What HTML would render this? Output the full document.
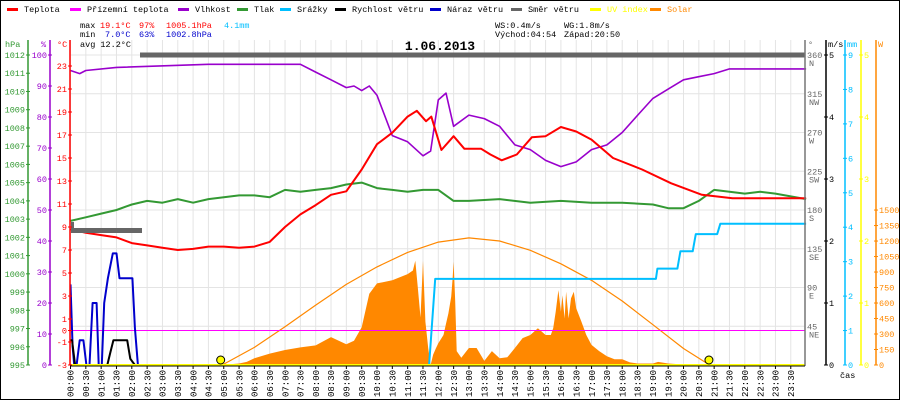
<!DOCTYPE html>
<html><head><meta charset="utf-8"><title>Weather 1.06.2013</title>
<style>
html,body{margin:0;padding:0;background:#fff;}
svg{display:block;font-family:"Liberation Mono",monospace;}
</style></head>
<body>
<svg id="chart" width="900" height="400" viewBox="0 0 900 400" xmlns="http://www.w3.org/2000/svg">
<rect x="0.5" y="0.5" width="899" height="399" fill="#fff" stroke="#000"/>
<g id="grid"></g>
<g id="series"></g>
<g id="axes"></g>
<g id="legend" font-size="8.5"></g>
<g font-size="8.5">
 <text x="80" y="28">max</text>
 <text x="100" y="28" fill="#f00">19.1°C</text>
 <text x="139" y="28" fill="#f00">97%</text>
 <text x="166" y="28" fill="#f00">1005.1hPa</text>
 <text x="224" y="28" fill="#00bfff">4.1mm</text>
 <text x="80" y="37">min</text>
 <text x="105" y="37" fill="#00c">7.0°C</text>
 <text x="139" y="37" fill="#00c">63%</text>
 <text x="166" y="37" fill="#00c">1002.8hPa</text>
 <text x="80" y="47">avg 12.2°C</text>
 <text x="495" y="28">WS:0.4m/s</text>
 <text x="564" y="28">WG:1.8m/s</text>
 <text x="495" y="37">Východ:04:54</text>
 <text x="564" y="37">Západ:20:50</text>
</g>
<text x="440" y="50" text-anchor="middle" font-size="13" font-weight="bold">1.06.2013</text>
</svg>
<script>
// ---- data ----
const timeLabels = ["00:00","00:30","01:00","01:30","02:00","02:30","03:00","03:30","04:00","04:30","05:00","05:30","06:00","06:30","07:00","07:30","08:00","08:30","09:00","09:30","10:00","10:30","11:00","11:30","12:00","12:30","13:00","13:30","14:00","14:30","15:00","15:30","16:00","16:30","17:00","17:30","18:00","18:30","19:00","19:30","20:00","20:30","21:00","21:30","22:00","22:30","23:00","23:30"];
const tempHours = [0,0.5,1,1.5,2,2.5,3,3.5,4,4.5,5,5.5,6,6.5,7,7.5,8,8.5,9,9.5,10,10.5,11,11.3,11.6,11.77,12.1,12.5,12.85,13.4,13.7,14.07,14.56,15.05,15.5,16.0,16.5,17.0,17.7,18.65,19.6,20.6,21.6,22.6,24];
const tempValues = [8.8,8.5,8.3,8.1,7.6,7.4,7.2,7.0,7.1,7.3,7.3,7.2,7.3,7.7,9.0,10.1,10.9,11.8,12.1,14.0,16.2,17.2,18.6,19.1,18.2,18.6,15.7,16.9,15.8,15.8,15.3,14.8,15.3,16.8,16.9,17.7,17.3,16.6,15.0,14.0,12.8,11.8,11.5,11.5,11.5];
const humHours = [0,0.3,0.5,1.5,4.5,5,5.5,7.5,8,8.5,9,9.25,9.5,9.75,10,10.5,11,11.5,11.75,12,12.25,12.5,13,13.5,14,14.5,15,15.5,16,16.5,17,17.5,18,18.5,19,19.5,20,20.5,21,21.5,22,23,24];
const humValues = [95,94,95,96,97,97,97,97,94.5,92,89.5,90,88.5,90,87,74,72,67.5,69,85.5,87.7,77,80.6,79.5,77,71,69.5,66,64,65.5,69.5,71,75,80.5,86,89,92,93,94,95.5,95.5,95.5,95.5];
const pressHours = [0,0.5,1,1.5,2,2.5,3,3.5,4,4.5,5,5.5,6,6.5,7,7.5,8,8.5,9,9.5,10,10.5,11,11.5,12,12.5,13,14,15,16,17,18,19,19.5,20,20.5,21,21.5,22,22.5,23,24];
const pressValues = [1002.9,1003.1,1003.3,1003.5,1003.8,1004.0,1003.9,1004.1,1003.9,1004.1,1004.2,1004.3,1004.3,1004.2,1004.6,1004.5,1004.6,1004.7,1004.9,1005.0,1004.7,1004.6,1004.5,1004.6,1004.6,1004.0,1004.0,1004.1,1003.9,1004.0,1003.9,1003.9,1003.8,1003.6,1003.6,1004.0,1004.6,1004.5,1004.4,1004.5,1004.4,1004.1];
const gustHours = [0,0.07,0.12,0.2,0.3,0.42,0.52,0.62,0.72,0.85,0.92,1.02,1.1,1.22,1.38,1.5,1.6,1.72,2.02,2.1,2.2];
const gustValues = [1.3,0.3,0,0,0.4,0.4,0,0,1.0,1.0,0,0,1.0,1.4,1.8,1.8,1.4,1.4,1.4,0.6,0];
const windHours = [0,0.05,0.15,1.2,1.3,1.4,1.85,1.95,2.1];
const windValues = [0.4,0.4,0,0,0.2,0.4,0.4,0.1,0];
const rainHours = [0,11.7,11.9,19.1,19.15,19.8,19.9,20.3,20.4,21.1,21.2,24];
const rainValues = [0,0,2.5,2.5,2.8,2.8,3.3,3.3,3.8,3.8,4.1,4.1];
const clearSkyHours = [4.95,6,7,8,9,10,11,12,13,14,15,16,17,18,19,20,20.85];
const clearSkyValues = [0,170,370,580,780,950,1090,1190,1230,1200,1110,980,820,620,390,160,0];
const solarHours = [4.9,5.5,5.75,6,6.5,7,7.5,8,8.5,9,9.25,9.5,9.75,10,10.5,11,11.17,11.25,11.33,11.42,11.5,11.58,11.67,11.75,11.83,11.92,12,12.17,12.25,12.33,12.42,12.47,12.5,12.55,12.6,12.75,13,13.25,13.5,13.75,14,14.25,14.5,14.75,15,15.25,15.5,15.67,15.75,15.83,15.92,16,16.05,16.12,16.17,16.25,16.33,16.42,16.5,16.67,16.83,17,17.25,17.5,17.75,18,18.25,18.5,19,19.17,19.5,20,20.5,20.85];
const solarValues = [0,15,30,65,110,145,170,190,270,200,235,365,690,790,820,880,915,1010,750,460,1010,420,165,0,100,160,210,290,400,500,660,850,1000,620,135,70,165,165,40,135,65,75,165,260,290,355,290,290,355,515,725,515,675,450,710,450,645,710,550,420,290,195,135,85,55,55,25,15,15,30,15,5,5,0];
const sunEvents = [4.9,20.83];
const hpaTicks = [995,996,997,998,999,1000,1001,1002,1003,1004,1005,1006,1007,1008,1009,1010,1011,1012];
const humTicks = [0,10,20,30,40,50,60,70,80,90,100];
const tempTicks = [-3,-1,0,1,3,5,7,9,11,13,15,17,19,21,23];
const dirTicks = [45,90,135,180,225,270,315,360];
const dirNames = ["NE","E","SE","S","SW","W","NW","N"];
const windTicks = [0,1,2,3,4,5];
const mmTicks = [0,1,2,3,4,5,6,7,8,9];
const uvTicks = [0,1,2,3,4,5];
const solarTicks = [0,150,300,450,600,750,900,1050,1200,1350,1500];
const legendNames = ["Teplota","Přízemní teplota","Vlhkost","Tlak","Srážky","Rychlost větru","Náraz větru","Směr větru","UV index","Solar"];
const legendColors = ["#f00","#f0f","#90c","#393","#00bfff","#000","#00c","#666","#ff0","#f80"];

// ---- scales ----
const X0=70.5, PX_H=30.65, YB=365, YT=55;
const xS = h => X0 + h*PX_H;
const yTemp = t => 330.5 - t*11.5;
const yHum = p => YB - p*(YB-YT)/100;
const yPress = p => YB - (p-995)*(YB-YT)/17;
const yWind = v => YB - v*(YB-YT)/5;
const yRain = m => YB - m*(YB-YT)/9;
const yUV = v => YB - v*(YB-YT)/5;
const ySolar = w => YB - w*0.1033;
const yDir = d => YB - d*(YB-YT)/360;
const NS="http://www.w3.org/2000/svg";
const FS=8.5;
function mk(tag,parent,attrs){const e=document.createElementNS(NS,tag);for(const k in attrs)e.setAttribute(k,attrs[k]);parent.appendChild(e);return e;}
const grid=document.getElementById('grid'), ser=document.getElementById('series'), axes=document.getElementById('axes'), leg=document.getElementById('legend');

// grid
for(let i=0;i<48;i++){const x=xS(i*0.5);
 const l=mk('line',grid,{x1:x,x2:x,y1:40,y2:YB,stroke:'#e4e4e4'});
 
 
 const t=mk('text',axes,{x:0,y:0,'font-size':9,transform:`translate(${x+3.2},397) rotate(-90)`});
 t.textContent=timeLabels[i];
 
 
 const tk=mk('line',axes,{x1:x,x2:x,y1:366,y2:369,stroke:'#000'});
 
 
}
dirTicks.forEach(d=>{const y=yDir(d);
 const l=mk('line',grid,{x1:71,x2:805,y1:y,y2:y,stroke:'#e4e4e4'});
 
 });

function poly(hs,vs,yf,color,w,name){
 const pts=hs.map((h,i)=>xS(h).toFixed(1)+','+yf(vs[i]).toFixed(1)).join(' ');
 const p=mk('polyline',ser,{points:pts,fill:'none',stroke:color,'stroke-width':w,'stroke-linejoin':'round'});
 
 
 return p;}

// solar area
{const pts=[xS(solarHours[0])+','+YB].concat(solarHours.map((h,i)=>xS(h).toFixed(1)+','+ySolar(solarValues[i]).toFixed(1))).concat([xS(solarHours[solarHours.length-1])+','+YB]).join(' ');
 const p=mk('polygon',ser,{points:pts,fill:'#f80',stroke:'none'});
 
 }
poly(clearSkyHours,clearSkyValues,ySolar,'#f80',1.2,'clear-sky-solar-line');
{const l=mk('line',ser,{x1:71,x2:805,y1:yTemp(0),y2:yTemp(0),stroke:'#f0f','stroke-width':1});
 
 }
poly(rainHours,rainValues,yRain,'#00bfff',2,'rain-line');
poly(pressHours,pressValues,yPress,'#393',2,'pressure-line');
poly(humHours,humValues,yHum,'#90c',1.6,'humidity-line');
poly(tempHours,tempValues,yTemp,'#f00',2,'temperature-line');
poly(gustHours,gustValues,yWind,'#00c',2,'wind-gust-line');
poly(windHours,windValues,yWind,'#000',2,'wind-speed-line');
{const b1=mk('line',ser,{x1:71,x2:142,y1:230.5,y2:230.5,stroke:'#666','stroke-width':5});
 
 
 const s=mk('rect',ser,{x:71,y:222,width:3,height:10,fill:'#666'});
 
 
 const b2=mk('line',ser,{x1:140,x2:805,y1:yDir(360),y2:yDir(360),stroke:'#666','stroke-width':5});
 
 }
{const l=mk('line',ser,{x1:71,x2:805,y1:365,y2:365,stroke:'#ff0','stroke-width':2});
 
 }
sunEvents.forEach(h=>{const c=mk('circle',ser,{cx:xS(h),cy:360,r:4,fill:'#ff0',stroke:'#000','stroke-width':1});
 
 });
{const l=mk('line',axes,{x1:805,x2:805,y1:40,y2:366,stroke:'#777','stroke-width':1.5});
 
 
 const b=mk('line',axes,{x1:70,x2:805,y1:366,y2:366,stroke:'#000','stroke-width':1});
 
 }

function vaxis(x,color,ticks,yf,labelX,anchor,name){
 const l=mk('line',axes,{x1:x,x2:x,y1:40,y2:YB,stroke:color,'stroke-width':1.5});
 
 
 ticks.forEach(v=>{const y=yf(v);
  const tk=mk('line',axes,{x1:x-2,x2:x+2,y1:y,y2:y,stroke:color});
  
  
  const t=mk('text',axes,{x:labelX,y:y+3,fill:color,'text-anchor':anchor,'font-size':FS});
  t.textContent=v;
  
  });}
vaxis(28,'#393',hpaTicks,yPress,25,'end','pressure-axis');
vaxis(50,'#90c',humTicks,yHum,47,'end','humidity-axis');
vaxis(70,'#f00',tempTicks,yTemp,67,'end','temperature-axis');
vaxis(826,'#000',windTicks,yWind,829,'start','wind-axis');
vaxis(845,'#00bfff',mmTicks,yRain,848,'start','rain-axis');
vaxis(861,'#ff0',uvTicks,yUV,864,'start','uv-axis');
{const l=mk('line',axes,{x1:876,x2:876,y1:40,y2:YB,stroke:'#f80','stroke-width':1.5});
 
 
 solarTicks.forEach(v=>{const y=ySolar(v);
  const tk=mk('line',axes,{x1:874,x2:878,y1:y,y2:y,stroke:'#f80'});
  
  
  const t=mk('text',axes,{x:879,y:y+3,fill:'#f80','font-size':FS});
  t.textContent=v;
  
  });}
dirTicks.forEach((d,i)=>{const y=yDir(d);
 const t=mk('text',axes,{x:807,y:y+3,fill:'#666','font-size':FS});
 t.textContent=d;
 
 
 const n=mk('text',axes,{x:809,y:y+11,fill:'#666','font-size':FS});
 n.textContent=dirNames[i];
 
 });
[['hPa',5,'#393'],['%',41,'#90c'],['°C',57,'#f00'],['°',808,'#666'],['m/s',828,'#000'],['mm',847,'#00bfff'],['W',878,'#f80']].forEach(a=>{
 const t=mk('text',axes,{x:a[1],y:47,fill:a[2],'font-size':FS});
 t.textContent=a[0];
 
 });
{const t=mk('text',axes,{x:840,y:378,'font-size':FS});
 t.textContent='čas';
 
 }

const legX=[7,70,178,237,280,335,430,511,590,650];
legendNames.forEach((n,i)=>{
 const g=mk('g',leg,{});
 
 
 mk('rect',g,{x:legX[i],y:8,width:11,height:3,fill:legendColors[i]});
 const t=mk('text',g,{x:legX[i]+17,y:12,fill:(i>=8?legendColors[i]:'#000'),'font-size':FS});
 t.textContent=n;
});
</script>
</body></html>
